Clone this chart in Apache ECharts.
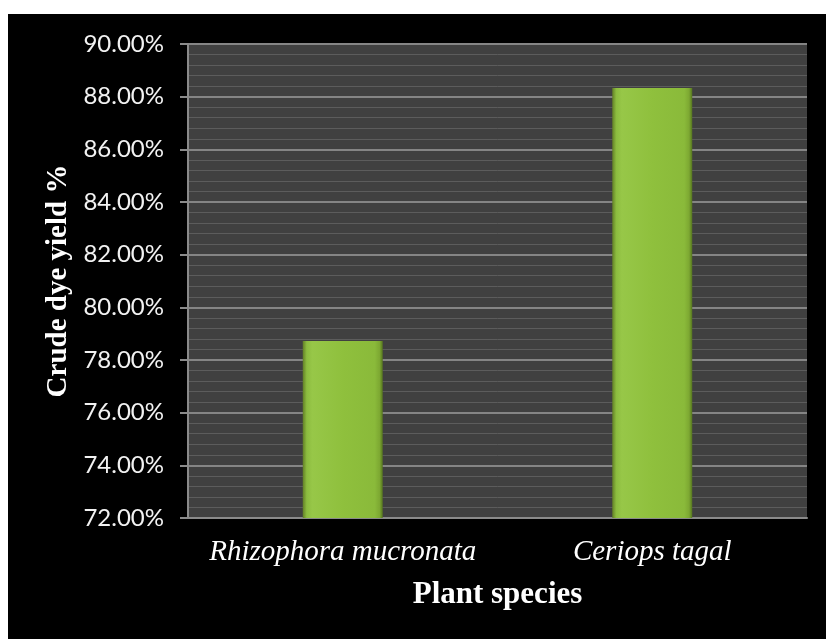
<!DOCTYPE html>
<html>
<head>
<meta charset="utf-8">
<script src="https://cdn.jsdelivr.net/npm/echarts@6/dist/echarts.min.js"></script>
<style>
  html, body { margin: 0; padding: 0; background: #ffffff; width: 826px; height: 639px; overflow: hidden; }
  #chart { position: absolute; left: 8px; top: 14px; width: 818px; height: 625px; }
</style>
</head>
<body>
<div id="chart"></div>
<script>
const categories = ['Rhizophora mucronata', 'Ceriops tagal'];
const yieldValues = [78.72, 88.33];
const yMin = 72, yMax = 90, yStep = 2;
const xAxisTitle = 'Plant species';
const yAxisTitle = 'Crude dye yield %';

const chart = echarts.init(document.getElementById('chart'), null, { renderer: 'canvas' });
chart.setOption({
  backgroundColor: '#000000',
  animation: false,
  grid: {
    left: 180, right: 19, top: 30, bottom: 121,
    show: true, backgroundColor: '#404040', borderWidth: 0
  },
  xAxis: {
    type: 'category',
    data: categories,
    name: xAxisTitle,
    nameLocation: 'middle',
    nameGap: 61,
    nameTextStyle: { fontFamily: 'Liberation Serif', fontWeight: 'bold', fontSize: 31, color: '#ffffff' },
    axisLine: { show: true, lineStyle: { color: '#8a8a8a', width: 2 } },
    axisTick: { show: false },
    axisLabel: { interval: 0, hideOverlap: false, margin: 20, fontFamily: 'Liberation Serif', fontStyle: 'italic', fontSize: 29, color: '#ffffff' },
    splitLine: { show: false }
  },
  yAxis: {
    type: 'value',
    min: yMin, max: yMax, interval: yStep,
    name: yAxisTitle,
    nameLocation: 'middle',
    nameGap: 114,
    nameTextStyle: { fontFamily: 'Liberation Serif', fontWeight: 'bold', fontSize: 29, color: '#ffffff' },
    axisLine: { show: true, lineStyle: { color: '#8a8a8a', width: 2 } },
    axisTick: { show: true, inside: false, length: 8, lineStyle: { color: '#8a8a8a', width: 2 } },
    axisLabel: { margin: 24, fontFamily: 'Lato', fontSize: 24, color: '#f2f2f2',
      formatter: v => v.toFixed(2) + '%' },
    splitLine: { show: true, lineStyle: { color: '#858585', width: 2 } },
    minorTick: { show: false, splitNumber: 5 },
    minorSplitLine: { show: true, lineStyle: { color: '#5c5c5c', width: 1 } }
  },
  series: [{
    type: 'bar',
    data: yieldValues,
    barWidth: 80,
    itemStyle: {
      color: new echarts.graphic.LinearGradient(0, 0, 1, 0, [
        { offset: 0, color: '#627f26' },
        { offset: 0.05, color: '#8cbc3f' },
        { offset: 0.12, color: '#97c748' },
        { offset: 0.5, color: '#8fc03d' },
        { offset: 0.9, color: '#8aba3a' },
        { offset: 0.96, color: '#7da832' },
        { offset: 1, color: '#55741f' }
      ]),
      borderWidth: 0
    }
  }]
});
</script>
</body>
</html>
